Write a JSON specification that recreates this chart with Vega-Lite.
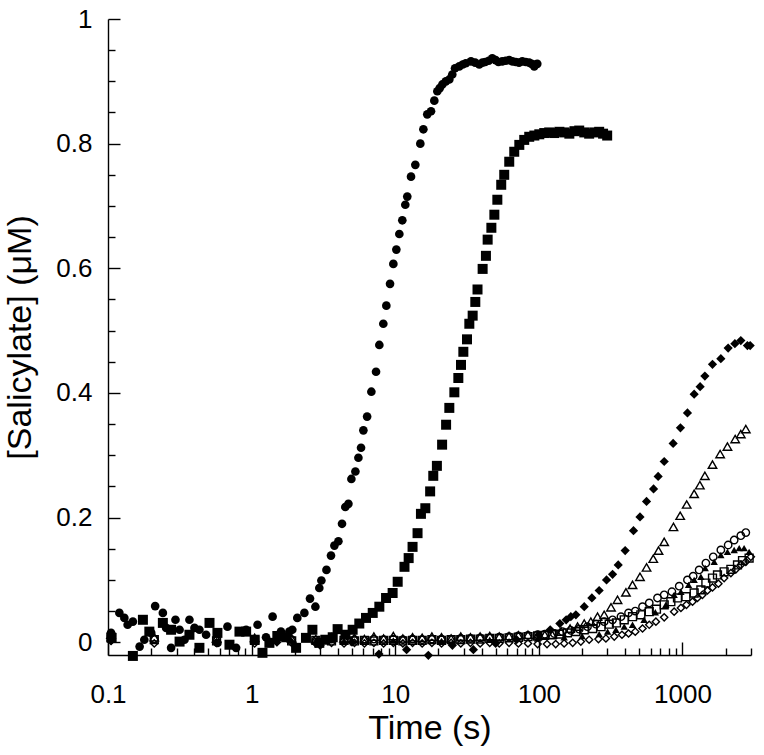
{
  "$schema": "https://vega.github.io/schema/vega-lite/v6.json",
  "width": 643,
  "height": 636,
  "autosize": "none",
  "padding": {"left": 108, "top": 19, "right": 13, "bottom": 100},
  "background": "white",
  "config": {
    "view": {"stroke": null},
    "axis": {
      "grid": false,
      "domainColor": "black",
      "domainWidth": 1.4,
      "tickColor": "black",
      "tickWidth": 1.4,
      "labelColor": "black",
      "labelFont": "Liberation Sans",
      "labelFontSize": 26,
      "titleFont": "Liberation Sans",
      "titleFontSize": 34,
      "titleFontWeight": "normal",
      "titleColor": "black",
      "labelOverlap": false,
      "labelBound": false,
      "labelFlush": false
    }
  },
  "data": {"values": [
    {"s":"fc","t":0.105,"y":0.015},{"s":"fc","t":0.12,"y":0.047},{"s":"fc","t":0.13,"y":0.039},{"s":"fc","t":0.137,"y":0.028},{"s":"fc","t":0.149,"y":0.033},{"s":"fc","t":0.166,"y":-0.007},{"s":"fc","t":0.179,"y":0.004},{"s":"fc","t":0.2,"y":0.015},{"s":"fc","t":0.213,"y":0.058},{"s":"fc","t":0.241,"y":0.047},{"s":"fc","t":0.254,"y":0.023},{"s":"fc","t":0.275,"y":-0.009},{"s":"fc","t":0.295,"y":0.036},{"s":"fc","t":0.315,"y":0.02},{"s":"fc","t":0.341,"y":0.004},{"s":"fc","t":0.369,"y":0.036},{"s":"fc","t":0.4,"y":0.023},{"s":"fc","t":0.433,"y":0.02},{"s":"fc","t":0.482,"y":0.012},{"s":"fc","t":0.578,"y":-0.001},{"s":"fc","t":0.679,"y":0.025},{"s":"fc","t":0.78,"y":-0.009},{"s":"fc","t":0.916,"y":0.02},{"s":"fc","t":1.1,"y":0.028},{"s":"fc","t":1.26,"y":0.008},{"s":"fc","t":1.4,"y":0.041},{"s":"fc","t":1.6,"y":0.017},{"s":"fc","t":1.83,"y":0.017},{"s":"fc","t":1.92,"y":0.02},{"s":"fc","t":2.08,"y":0.039},{"s":"fc","t":2.33,"y":0.047},{"s":"fc","t":2.55,"y":0.07},{"s":"fc","t":2.78,"y":0.057},{"s":"fc","t":2.96,"y":0.087},{"s":"fc","t":3.06,"y":0.099},{"s":"fc","t":3.32,"y":0.116},{"s":"fc","t":3.57,"y":0.139},{"s":"fc","t":3.77,"y":0.155},{"s":"fc","t":4.02,"y":0.162},{"s":"fc","t":4.26,"y":0.19},{"s":"fc","t":4.49,"y":0.217},{"s":"fc","t":4.72,"y":0.222},{"s":"fc","t":4.95,"y":0.262},{"s":"fc","t":5.28,"y":0.274},{"s":"fc","t":5.54,"y":0.296},{"s":"fc","t":5.78,"y":0.312},{"s":"fc","t":6.0,"y":0.34},{"s":"fc","t":6.37,"y":0.362},{"s":"fc","t":6.82,"y":0.402},{"s":"fc","t":7.35,"y":0.434},{"s":"fc","t":7.75,"y":0.477},{"s":"fc","t":8.26,"y":0.511},{"s":"fc","t":8.67,"y":0.54},{"s":"fc","t":9.2,"y":0.575},{"s":"fc","t":9.7,"y":0.607},{"s":"fc","t":10.18,"y":0.63},{"s":"fc","t":10.68,"y":0.655},{"s":"fc","t":11.2,"y":0.677},{"s":"fc","t":11.75,"y":0.702},{"s":"fc","t":12.13,"y":0.715},{"s":"fc","t":12.88,"y":0.747},{"s":"fc","t":13.8,"y":0.766},{"s":"fc","t":14.95,"y":0.8},{"s":"fc","t":15.7,"y":0.823},{"s":"fc","t":16.71,"y":0.847},{"s":"fc","t":17.75,"y":0.852},{"s":"fc","t":18.71,"y":0.869},{"s":"fc","t":19.64,"y":0.884},{"s":"fc","t":20.4,"y":0.889},{"s":"fc","t":21.28,"y":0.895},{"s":"fc","t":22.5,"y":0.9},{"s":"fc","t":23.79,"y":0.903},{"s":"fc","t":24.96,"y":0.911},{"s":"fc","t":26.08,"y":0.921},{"s":"fc","t":27.93,"y":0.924},{"s":"fc","t":29.5,"y":0.927},{"s":"fc","t":31,"y":0.929},{"s":"fc","t":33.68,"y":0.932},{"s":"fc","t":36,"y":0.93},{"s":"fc","t":38.48,"y":0.927},{"s":"fc","t":40.5,"y":0.93},{"s":"fc","t":42.37,"y":0.931},{"s":"fc","t":44.8,"y":0.933},{"s":"fc","t":47.4,"y":0.937},{"s":"fc","t":50,"y":0.934},{"s":"fc","t":52.3,"y":0.931},{"s":"fc","t":55.6,"y":0.932},{"s":"fc","t":58.8,"y":0.933},{"s":"fc","t":62.2,"y":0.934},{"s":"fc","t":65.5,"y":0.932},{"s":"fc","t":69.1,"y":0.931},{"s":"fc","t":72.8,"y":0.93},{"s":"fc","t":76.7,"y":0.932},{"s":"fc","t":81,"y":0.931},{"s":"fc","t":85.6,"y":0.93},{"s":"fc","t":89,"y":0.928},{"s":"fc","t":92.9,"y":0.924},{"s":"fc","t":95,"y":0.927},{"s":"fc","t":97.5,"y":0.928},

    {"s":"fs","t":0.106,"y":0.007},{"s":"fs","t":0.149,"y":-0.022},{"s":"fs","t":0.175,"y":0.036},{"s":"fs","t":0.194,"y":0.017},{"s":"fs","t":0.241,"y":0.031},{"s":"fs","t":0.275,"y":0.02},{"s":"fs","t":0.315,"y":0.001},{"s":"fs","t":0.369,"y":0.012},{"s":"fs","t":0.433,"y":-0.009},{"s":"fs","t":0.509,"y":0.031},{"s":"fs","t":0.578,"y":0.015},{"s":"fs","t":0.701,"y":-0.004},{"s":"fs","t":0.823,"y":0.017},{"s":"fs","t":0.916,"y":0.017},{"s":"fs","t":1.05,"y":0.004},{"s":"fs","t":1.19,"y":-0.017},{"s":"fs","t":1.33,"y":-0.001},{"s":"fs","t":1.51,"y":0.01},{"s":"fs","t":1.74,"y":0.008},{"s":"fs","t":2.04,"y":-0.009},{"s":"fs","t":2.39,"y":0.007},{"s":"fs","t":2.65,"y":0.02},{"s":"fs","t":2.96,"y":-0.001},{"s":"fs","t":3.26,"y":0.004},{"s":"fs","t":3.67,"y":0.008},{"s":"fs","t":3.97,"y":0.021},{"s":"fs","t":4.5,"y":0.012},{"s":"fs","t":5.05,"y":0.02},{"s":"fs","t":5.62,"y":0.03},{"s":"fs","t":6.26,"y":0.039},{"s":"fs","t":6.97,"y":0.047},{"s":"fs","t":7.75,"y":0.057},{"s":"fs","t":8.63,"y":0.071},{"s":"fs","t":9.59,"y":0.079},{"s":"fs","t":10.4,"y":0.097},{"s":"fs","t":11.6,"y":0.121},{"s":"fs","t":12.4,"y":0.135},{"s":"fs","t":13.2,"y":0.153},{"s":"fs","t":14.3,"y":0.175},{"s":"fs","t":15.1,"y":0.206},{"s":"fs","t":16.2,"y":0.215},{"s":"fs","t":17.5,"y":0.242},{"s":"fs","t":18.4,"y":0.267},{"s":"fs","t":19.5,"y":0.283},{"s":"fs","t":21.2,"y":0.317},{"s":"fs","t":22.6,"y":0.349},{"s":"fs","t":23.8,"y":0.376},{"s":"fs","t":25.8,"y":0.401},{"s":"fs","t":27.5,"y":0.424},{"s":"fs","t":28.7,"y":0.445},{"s":"fs","t":29.8,"y":0.466},{"s":"fs","t":31.6,"y":0.486},{"s":"fs","t":32.8,"y":0.511},{"s":"fs","t":34.6,"y":0.524},{"s":"fs","t":36.1,"y":0.546},{"s":"fs","t":37.4,"y":0.566},{"s":"fs","t":40.6,"y":0.599},{"s":"fs","t":42.8,"y":0.62},{"s":"fs","t":44.0,"y":0.646},{"s":"fs","t":46.7,"y":0.665},{"s":"fs","t":49.0,"y":0.686},{"s":"fs","t":51.4,"y":0.71},{"s":"fs","t":54.7,"y":0.734},{"s":"fs","t":57.4,"y":0.75},{"s":"fs","t":62.2,"y":0.771},{"s":"fs","t":67.4,"y":0.787},{"s":"fs","t":73.1,"y":0.798},{"s":"fs","t":79.1,"y":0.806},{"s":"fs","t":85.7,"y":0.811},{"s":"fs","t":93,"y":0.813},{"s":"fs","t":100.7,"y":0.815},{"s":"fs","t":109,"y":0.817},{"s":"fs","t":118,"y":0.818},{"s":"fs","t":128,"y":0.817},{"s":"fs","t":139,"y":0.819},{"s":"fs","t":151,"y":0.818},{"s":"fs","t":163,"y":0.816},{"s":"fs","t":177,"y":0.82},{"s":"fs","t":191,"y":0.821},{"s":"fs","t":207,"y":0.818},{"s":"fs","t":224,"y":0.816},{"s":"fs","t":243,"y":0.818},{"s":"fs","t":263,"y":0.819},{"s":"fs","t":280,"y":0.816},{"s":"fs","t":299,"y":0.813},

    {"s":"fd","t":0.105,"y":0.003},{"s":"fd","t":1.5,"y":0.0},{"s":"fd","t":3,"y":-0.005},{"s":"fd","t":5,"y":0.0},{"s":"fd","t":7.7,"y":-0.019},{"s":"fd","t":12,"y":-0.012},{"s":"fd","t":17,"y":-0.021},{"s":"fd","t":25,"y":-0.005},{"s":"fd","t":35,"y":-0.012},{"s":"fd","t":50,"y":-0.002},{"s":"fd","t":70,"y":0.004},{"s":"fd","t":100,"y":0.012},{"s":"fd","t":120,"y":0.02},{"s":"fd","t":140,"y":0.03},{"s":"fd","t":155,"y":0.036},{"s":"fd","t":167,"y":0.041},{"s":"fd","t":181,"y":0.044},{"s":"fd","t":207,"y":0.057},{"s":"fd","t":234,"y":0.071},{"s":"fd","t":263,"y":0.083},{"s":"fd","t":296,"y":0.1},{"s":"fd","t":326,"y":0.109},{"s":"fd","t":357,"y":0.124},{"s":"fd","t":399,"y":0.147},{"s":"fd","t":456,"y":0.179},{"s":"fd","t":506,"y":0.201},{"s":"fd","t":562,"y":0.226},{"s":"fd","t":629,"y":0.246},{"s":"fd","t":677,"y":0.266},{"s":"fd","t":746,"y":0.29},{"s":"fd","t":861,"y":0.319},{"s":"fd","t":968,"y":0.344},{"s":"fd","t":1083,"y":0.368},{"s":"fd","t":1206,"y":0.398},{"s":"fd","t":1327,"y":0.41},{"s":"fd","t":1432,"y":0.427},{"s":"fd","t":1618,"y":0.446},{"s":"fd","t":1850,"y":0.455},{"s":"fd","t":2080,"y":0.472},{"s":"fd","t":2317,"y":0.479},{"s":"fd","t":2548,"y":0.484},{"s":"fd","t":2833,"y":0.476},{"s":"fd","t":2960,"y":0.476},

    {"s":"ot","t":0.105,"y":0.012},{"s":"ot","t":0.21,"y":0.008},{"s":"ot","t":0.57,"y":0.006},{"s":"ot","t":1.05,"y":0.007},{"s":"ot","t":1.9,"y":0.006},{"s":"ot","t":2.8,"y":0.005},{"s":"ot","t":3.6,"y":0.008},{"s":"ot","t":4.4,"y":0.006},{"s":"ot","t":5.2,"y":0.007},{"s":"ot","t":6.1,"y":0.005},{"s":"ot","t":7.1,"y":0.009},{"s":"ot","t":8.3,"y":0.006},{"s":"ot","t":9.7,"y":0.01},{"s":"ot","t":11.3,"y":0.006},{"s":"ot","t":13.2,"y":0.008},{"s":"ot","t":15.4,"y":0.007},{"s":"ot","t":18,"y":0.009},{"s":"ot","t":21,"y":0.008},{"s":"ot","t":24.5,"y":0.006},{"s":"ot","t":28.6,"y":0.009},{"s":"ot","t":33.4,"y":0.008},{"s":"ot","t":39,"y":0.009},{"s":"ot","t":45.5,"y":0.01},{"s":"ot","t":53,"y":0.009},{"s":"ot","t":62,"y":0.01},{"s":"ot","t":72,"y":0.011},{"s":"ot","t":84,"y":0.012},{"s":"ot","t":98,"y":0.011},{"s":"ot","t":110,"y":0.012},{"s":"ot","t":124,"y":0.012},{"s":"ot","t":143,"y":0.017},{"s":"ot","t":165,"y":0.022},{"s":"ot","t":186,"y":0.025},{"s":"ot","t":207,"y":0.03},{"s":"ot","t":230,"y":0.033},{"s":"ot","t":256,"y":0.041},{"s":"ot","t":285,"y":0.044},{"s":"ot","t":318,"y":0.056},{"s":"ot","t":353,"y":0.068},{"s":"ot","t":404,"y":0.08},{"s":"ot","t":449,"y":0.092},{"s":"ot","t":506,"y":0.105},{"s":"ot","t":562,"y":0.12},{"s":"ot","t":626,"y":0.134},{"s":"ot","t":681,"y":0.147},{"s":"ot","t":746,"y":0.161},{"s":"ot","t":865,"y":0.185},{"s":"ot","t":964,"y":0.203},{"s":"ot","t":1070,"y":0.221},{"s":"ot","t":1206,"y":0.238},{"s":"ot","t":1321,"y":0.252},{"s":"ot","t":1432,"y":0.267},{"s":"ot","t":1618,"y":0.285},{"s":"ot","t":1829,"y":0.302},{"s":"ot","t":2056,"y":0.314},{"s":"ot","t":2328,"y":0.326},{"s":"ot","t":2548,"y":0.334},{"s":"ot","t":2761,"y":0.342},

    {"s":"oc","t":0.105,"y":0.01},{"s":"oc","t":0.21,"y":0.005},{"s":"oc","t":0.57,"y":0.004},{"s":"oc","t":1.05,"y":0.004},{"s":"oc","t":1.9,"y":0.004},{"s":"oc","t":2.8,"y":0.003},{"s":"oc","t":3.6,"y":0.005},{"s":"oc","t":4.4,"y":0.004},{"s":"oc","t":5.2,"y":0.004},{"s":"oc","t":6.1,"y":0.003},{"s":"oc","t":7.1,"y":0.005},{"s":"oc","t":8.3,"y":0.004},{"s":"oc","t":9.7,"y":0.005},{"s":"oc","t":11.3,"y":0.004},{"s":"oc","t":13.2,"y":0.005},{"s":"oc","t":15.4,"y":0.004},{"s":"oc","t":18,"y":0.005},{"s":"oc","t":21,"y":0.005},{"s":"oc","t":24.5,"y":0.005},{"s":"oc","t":28.6,"y":0.006},{"s":"oc","t":33.4,"y":0.006},{"s":"oc","t":39,"y":0.007},{"s":"oc","t":45.5,"y":0.007},{"s":"oc","t":53,"y":0.008},{"s":"oc","t":62,"y":0.009},{"s":"oc","t":72,"y":0.01},{"s":"oc","t":84,"y":0.011},{"s":"oc","t":98,"y":0.012},{"s":"oc","t":110,"y":0.013},{"s":"oc","t":128,"y":0.014},{"s":"oc","t":146,"y":0.017},{"s":"oc","t":167,"y":0.019},{"s":"oc","t":191,"y":0.021},{"s":"oc","t":218,"y":0.025},{"s":"oc","t":250,"y":0.029},{"s":"oc","t":285,"y":0.033},{"s":"oc","t":326,"y":0.036},{"s":"oc","t":373,"y":0.041},{"s":"oc","t":421,"y":0.047},{"s":"oc","t":469,"y":0.05},{"s":"oc","t":527,"y":0.057},{"s":"oc","t":587,"y":0.063},{"s":"oc","t":670,"y":0.071},{"s":"oc","t":746,"y":0.076},{"s":"oc","t":844,"y":0.081},{"s":"oc","t":949,"y":0.09},{"s":"oc","t":1083,"y":0.1},{"s":"oc","t":1187,"y":0.106},{"s":"oc","t":1306,"y":0.116},{"s":"oc","t":1455,"y":0.127},{"s":"oc","t":1637,"y":0.137},{"s":"oc","t":1850,"y":0.148},{"s":"oc","t":2080,"y":0.156},{"s":"oc","t":2291,"y":0.164},{"s":"oc","t":2548,"y":0.171},{"s":"oc","t":2761,"y":0.176},

    {"s":"ft","t":0.105,"y":0.006},{"s":"ft","t":0.57,"y":0.002},{"s":"ft","t":1.9,"y":0.003},{"s":"ft","t":4.4,"y":0.002},{"s":"ft","t":9.7,"y":0.003},{"s":"ft","t":21,"y":0.002},{"s":"ft","t":45.5,"y":0.004},{"s":"ft","t":98,"y":0.006},{"s":"ft","t":150,"y":0.008},{"s":"ft","t":200,"y":0.01},{"s":"ft","t":263,"y":0.013},{"s":"ft","t":301,"y":0.017},{"s":"ft","t":344,"y":0.02},{"s":"ft","t":393,"y":0.025},{"s":"ft","t":449,"y":0.028},{"s":"ft","t":540,"y":0.036},{"s":"ft","t":647,"y":0.048},{"s":"ft","t":766,"y":0.06},{"s":"ft","t":875,"y":0.076},{"s":"ft","t":975,"y":0.081},{"s":"ft","t":1102,"y":0.092},{"s":"ft","t":1206,"y":0.1},{"s":"ft","t":1343,"y":0.105},{"s":"ft","t":1439,"y":0.119},{"s":"ft","t":1663,"y":0.129},{"s":"ft","t":1850,"y":0.14},{"s":"ft","t":2056,"y":0.145},{"s":"ft","t":2291,"y":0.148},{"s":"ft","t":2483,"y":0.151},{"s":"ft","t":2686,"y":0.151},{"s":"ft","t":2911,"y":0.145},

    {"s":"os","t":0.105,"y":0.008},{"s":"os","t":0.21,"y":0.004},{"s":"os","t":0.57,"y":0.002},{"s":"os","t":1.05,"y":0.003},{"s":"os","t":1.9,"y":0.002},{"s":"os","t":2.8,"y":0.003},{"s":"os","t":3.6,"y":0.002},{"s":"os","t":4.4,"y":0.003},{"s":"os","t":5.2,"y":0.002},{"s":"os","t":6.1,"y":0.003},{"s":"os","t":7.1,"y":0.002},{"s":"os","t":8.3,"y":0.003},{"s":"os","t":9.7,"y":0.003},{"s":"os","t":11.3,"y":0.002},{"s":"os","t":13.2,"y":0.003},{"s":"os","t":15.4,"y":0.003},{"s":"os","t":18,"y":0.004},{"s":"os","t":21,"y":0.003},{"s":"os","t":24.5,"y":0.004},{"s":"os","t":28.6,"y":0.004},{"s":"os","t":33.4,"y":0.005},{"s":"os","t":39,"y":0.005},{"s":"os","t":45.5,"y":0.006},{"s":"os","t":53,"y":0.006},{"s":"os","t":62,"y":0.007},{"s":"os","t":72,"y":0.008},{"s":"os","t":84,"y":0.009},{"s":"os","t":98,"y":0.01},{"s":"os","t":110,"y":0.011},{"s":"os","t":124,"y":0.012},{"s":"os","t":139,"y":0.013},{"s":"os","t":158,"y":0.015},{"s":"os","t":181,"y":0.017},{"s":"os","t":207,"y":0.02},{"s":"os","t":237,"y":0.022},{"s":"os","t":271,"y":0.025},{"s":"os","t":309,"y":0.029},{"s":"os","t":347,"y":0.031},{"s":"os","t":393,"y":0.036},{"s":"os","t":449,"y":0.041},{"s":"os","t":513,"y":0.044},{"s":"os","t":587,"y":0.049},{"s":"os","t":659,"y":0.053},{"s":"os","t":746,"y":0.06},{"s":"os","t":830,"y":0.065},{"s":"os","t":923,"y":0.071},{"s":"os","t":1057,"y":0.073},{"s":"os","t":1206,"y":0.079},{"s":"os","t":1343,"y":0.084},{"s":"os","t":1455,"y":0.095},{"s":"os","t":1618,"y":0.103},{"s":"os","t":1753,"y":0.108},{"s":"os","t":1950,"y":0.113},{"s":"os","t":2173,"y":0.117},{"s":"os","t":2416,"y":0.124},{"s":"os","t":2618,"y":0.131},{"s":"os","t":2911,"y":0.135},

    {"s":"od","t":0.105,"y":0.002},{"s":"od","t":0.21,"y":-0.002},{"s":"od","t":0.57,"y":-0.001},{"s":"od","t":1.05,"y":-0.002},{"s":"od","t":1.9,"y":-0.001},{"s":"od","t":2.8,"y":-0.002},{"s":"od","t":3.6,"y":-0.001},{"s":"od","t":4.4,"y":-0.002},{"s":"od","t":5.2,"y":-0.001},{"s":"od","t":6.1,"y":-0.002},{"s":"od","t":7.1,"y":-0.001},{"s":"od","t":8.3,"y":-0.002},{"s":"od","t":9.7,"y":-0.001},{"s":"od","t":11.3,"y":-0.002},{"s":"od","t":13.2,"y":-0.001},{"s":"od","t":15.4,"y":-0.002},{"s":"od","t":18,"y":-0.001},{"s":"od","t":21,"y":-0.002},{"s":"od","t":24.5,"y":-0.001},{"s":"od","t":28.6,"y":-0.002},{"s":"od","t":33.4,"y":-0.001},{"s":"od","t":39,"y":-0.002},{"s":"od","t":45.5,"y":-0.001},{"s":"od","t":53,"y":-0.002},{"s":"od","t":62,"y":-0.001},{"s":"od","t":72,"y":-0.002},{"s":"od","t":84,"y":-0.002},{"s":"od","t":98,"y":-0.003},{"s":"od","t":114,"y":-0.003},{"s":"od","t":131,"y":-0.003},{"s":"od","t":150,"y":-0.002},{"s":"od","t":172,"y":-0.001},{"s":"od","t":196,"y":0.001},{"s":"od","t":224,"y":0.004},{"s":"od","t":260,"y":0.005},{"s":"od","t":293,"y":0.006},{"s":"od","t":335,"y":0.009},{"s":"od","t":379,"y":0.012},{"s":"od","t":421,"y":0.014},{"s":"od","t":469,"y":0.017},{"s":"od","t":527,"y":0.022},{"s":"od","t":587,"y":0.028},{"s":"od","t":653,"y":0.033},{"s":"od","t":746,"y":0.04},{"s":"od","t":875,"y":0.049},{"s":"od","t":975,"y":0.055},{"s":"od","t":1066,"y":0.06},{"s":"od","t":1175,"y":0.065},{"s":"od","t":1271,"y":0.071},{"s":"od","t":1377,"y":0.076},{"s":"od","t":1493,"y":0.083},{"s":"od","t":1618,"y":0.088},{"s":"od","t":1778,"y":0.094},{"s":"od","t":1950,"y":0.103},{"s":"od","t":2173,"y":0.111},{"s":"od","t":2355,"y":0.117},{"s":"od","t":2548,"y":0.124},{"s":"od","t":2761,"y":0.129},{"s":"od","t":2992,"y":0.137}
  ]},
  "encoding": {
    "x": {
      "field": "t", "type": "quantitative",
      "scale": {"type": "log", "domain": [0.1, 3000], "nice": false},
      "axis": {
        "title": "Time (s)",
        "values": [0.1,0.2,0.3,0.4,0.5,0.6,0.7,0.8,0.9,1,2,3,4,5,6,7,8,9,10,20,30,40,50,60,70,80,90,100,200,300,400,500,600,700,800,900,1000,2000,3000],
        "format": "~g",
        "labelExpr": "indexof(['0.1','1','10','100','1000'], datum.label) >= 0 ? datum.label : ''",
        "tickSize": {"condition": {"test": "indexof([0.1,1,10,100,1000], datum.value) >= 0", "value": -13}, "value": -7},
        "labelPadding": 39,
        "titlePadding": -2
      }
    },
    "y": {
      "field": "y", "type": "quantitative",
      "scale": {"domain": [-0.0205, 1], "nice": false, "zero": false},
      "axis": {
        "title": "[Salicylate] (μM)",
        "values": [0,0.05,0.1,0.15,0.2,0.25,0.3,0.35,0.4,0.45,0.5,0.55,0.6,0.65,0.7,0.75,0.8,0.85,0.9,0.95,1],
        "labelExpr": "indexof([0,0.2,0.4,0.6,0.8,1], datum.value) >= 0 ? format(datum.value, '~g') : ''",
        "tickSize": {"condition": {"test": "indexof([0,0.2,0.4,0.6,0.8,1], datum.value) >= 0", "value": -12}, "value": -7},
        "labelPadding": 28,
        "titlePadding": 18
      }
    }
  },
  "layer": [
    {"transform": [{"filter": "datum.s == 'od'"}], "mark": {"type": "point", "shape": "diamond", "filled": false, "size": 52, "stroke": "black", "strokeWidth": 1.4, "opacity": 1}},
    {"transform": [{"filter": "datum.s == 'os'"}], "mark": {"type": "point", "shape": "square", "filled": false, "size": 62, "stroke": "black", "strokeWidth": 1.4, "opacity": 1}},
    {"transform": [{"filter": "datum.s == 'oc'"}], "mark": {"type": "point", "shape": "circle", "filled": false, "size": 55, "stroke": "black", "strokeWidth": 1.4, "opacity": 1}},
    {"transform": [{"filter": "datum.s == 'ot'"}], "mark": {"type": "point", "shape": "triangle-up", "filled": false, "size": 72, "stroke": "black", "strokeWidth": 1.4, "opacity": 1}},
    {"transform": [{"filter": "datum.s == 'ft'"}], "mark": {"type": "point", "shape": "triangle-up", "filled": true, "size": 55, "color": "black", "opacity": 1}},
    {"transform": [{"filter": "datum.s == 'fd'"}], "mark": {"type": "point", "shape": "diamond", "filled": true, "size": 85, "color": "black", "opacity": 1}},
    {"transform": [{"filter": "datum.s == 'fs'"}], "mark": {"type": "point", "shape": "square", "filled": true, "size": 100, "color": "black", "opacity": 1}},
    {"transform": [{"filter": "datum.s == 'fc'"}], "mark": {"type": "point", "shape": "circle", "filled": true, "size": 75, "color": "black", "opacity": 1}}
  ]
}
